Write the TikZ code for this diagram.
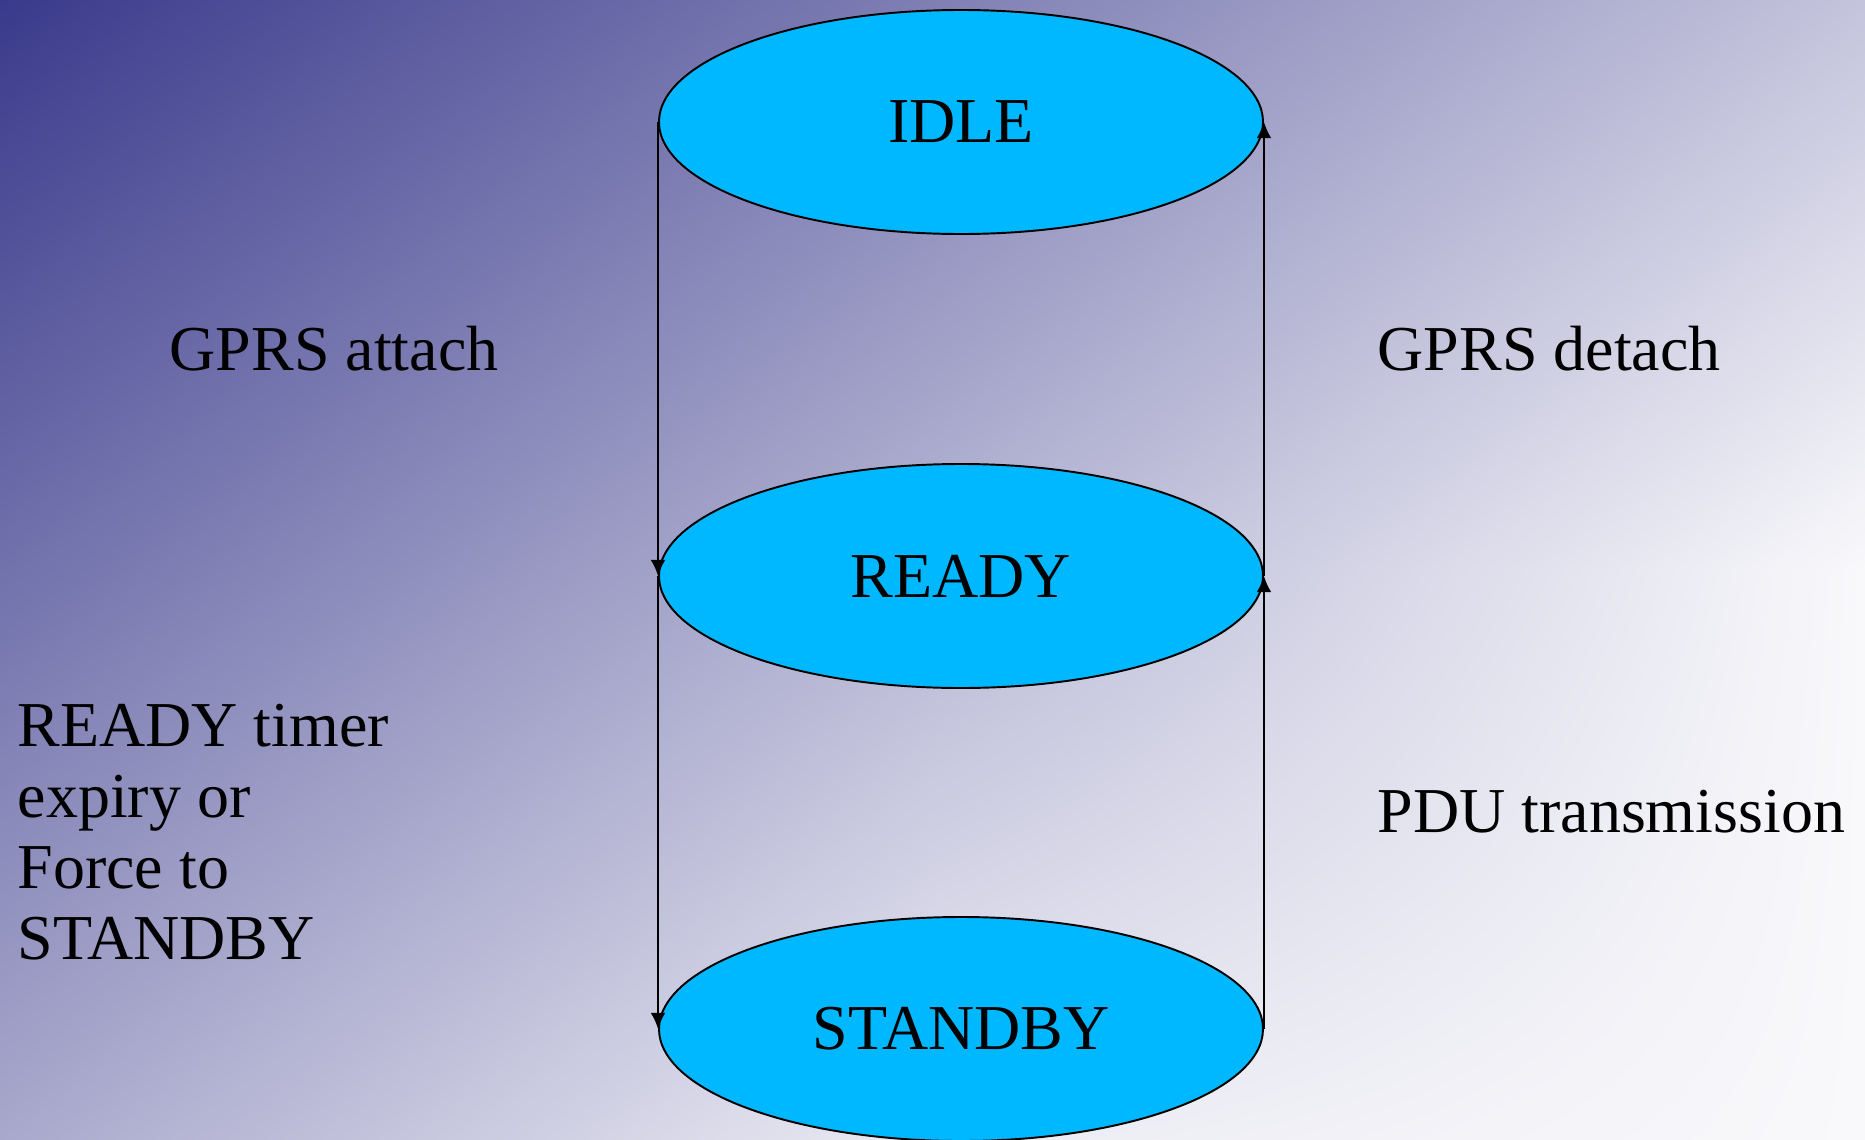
\documentclass[tikz,border=0pt]{standalone}
\usepackage{tikz}
\usetikzlibrary{shapes.geometric, positioning, arrows.meta, shadings}
\usepackage{xcolor}
\usepackage{fontspec}
\setmainfont{Liberation Serif}
\definecolor{SlideBlue}{RGB}{58,58,140}
\definecolor{StateCyan}{RGB}{0,184,255}

\begin{document}
\begin{tikzpicture}[
    state/.style={ellipse, draw=black, line width=0.55pt, fill=StateCyan,
                  minimum width=6.04cm, minimum height=2.24cm, inner sep=0pt,
                  font=\fontsize{18.2}{20.2}\selectfont},
    lbl/.style={anchor=base west, inner sep=0pt, align=left,
                font=\fontsize{18.2}{20.2}\selectfont},
    trans/.style={line width=0.45pt, -{Latex[length=4.6pt, width=4.2pt]}}
]
                % Frame and background
                \useasboundingbox (0,0) rectangle (18.65, 11.39);
                \clip (0,0) rectangle (18.65, 11.39);
                \shade[upper left=SlideBlue, upper right=SlideBlue!65!white,
                       lower left=SlideBlue!72!white, lower right=SlideBlue!37!white]
                      (0, 5.69) rectangle (9.33, 11.39);
                \shade[upper left=SlideBlue!65!white, upper right=SlideBlue!30!white,
                       lower left=SlideBlue!37!white, lower right=SlideBlue!3!white]
                      (9.33, 5.69) rectangle (18.65, 11.39);
                \shade[upper left=SlideBlue!72!white, upper right=SlideBlue!37!white,
                       lower left=SlideBlue!44!white, lower right=SlideBlue!10!white]
                      (0, 0) rectangle (9.33, 5.69);
                \shade[upper left=SlideBlue!37!white, upper right=SlideBlue!3!white,
                       lower left=SlideBlue!10!white, lower right=SlideBlue!3!white]
                      (9.33, 0) rectangle (18.65, 5.69);

                % States
                \node[state] (idle) at (9.61, 10.17) {IDLE};
                \node[state] (ready) at (9.61, 5.63) {READY};
                \node[state] (standby) at (9.61, 1.10) {STANDBY};

                % Transitions
                \draw[trans] (idle.west) -- (ready.west);
                \draw[trans] (ready.west) -- (standby.west);
                \draw[trans] (standby.east) -- (ready.east);
                \draw[trans] (ready.east) -- (idle.east);

                % Labels
                \node[lbl] (attach) at (1.69, 7.69) {GPRS attach};
                \node[lbl] (detach) at (13.77, 7.69) {GPRS detach};
                \node[lbl] (timer) at (0.17, 1.80) {READY timer\\expiry or\\Force to\\STANDBY};
                \node[lbl] (pdu) at (13.77, 3.07) {PDU transmission};
            \end{tikzpicture}
\end{document}
